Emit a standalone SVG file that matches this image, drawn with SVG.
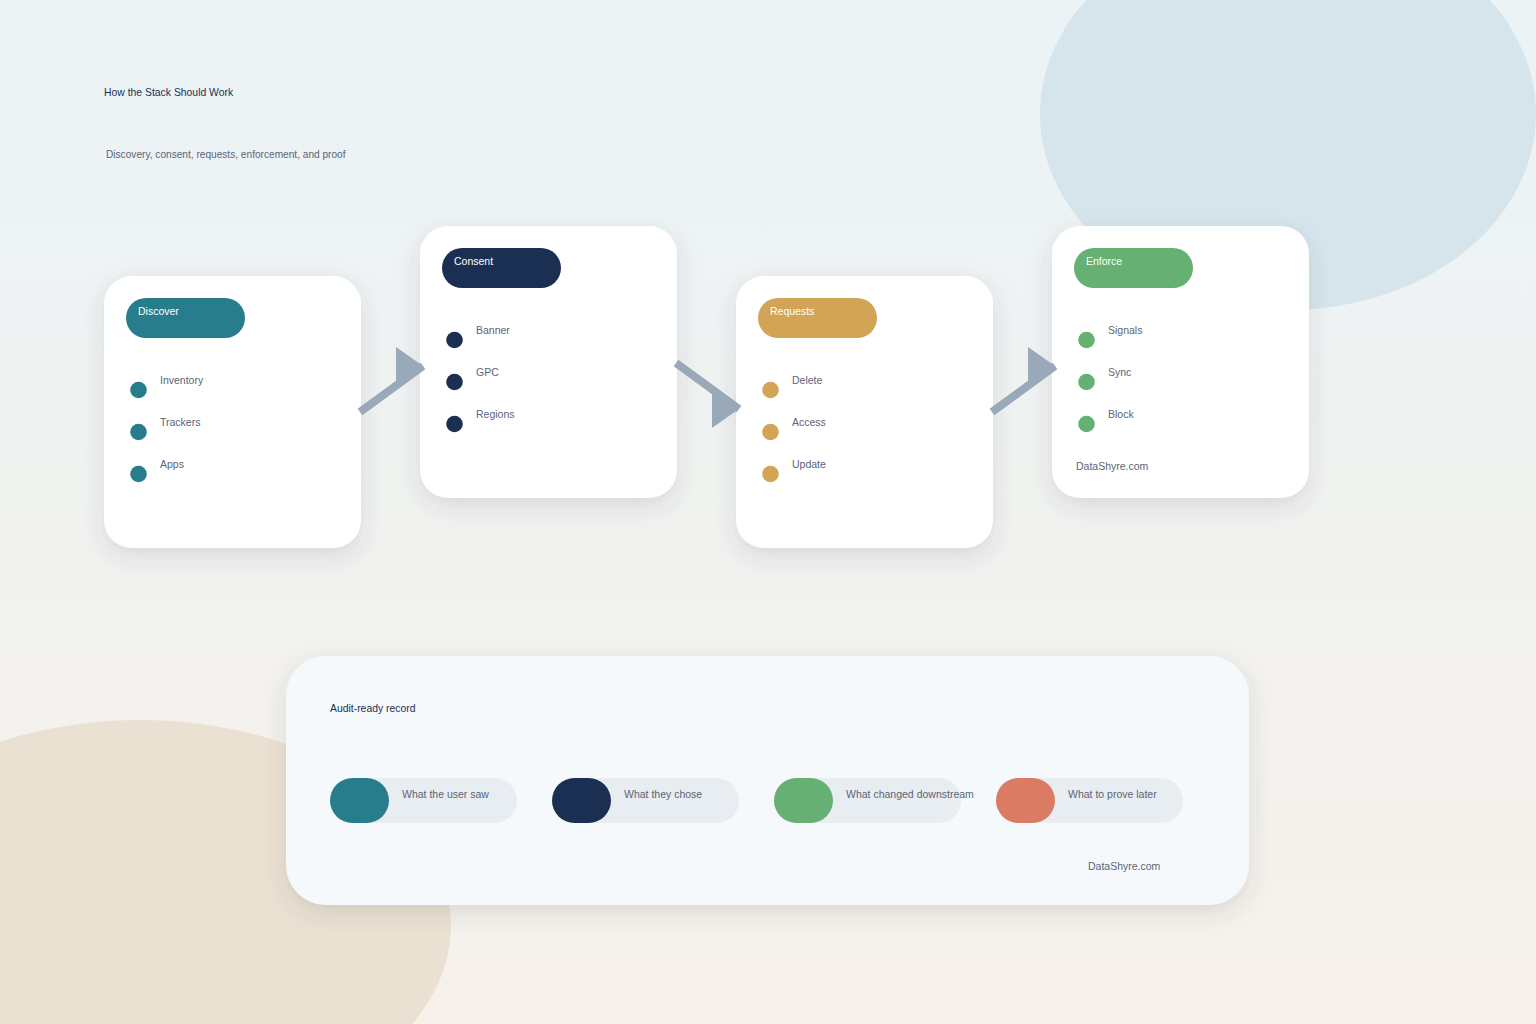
<svg xmlns="http://www.w3.org/2000/svg" width="1536" height="1024" viewBox="0 0 1536 1024">
<defs>
<linearGradient id="bg" x1="0" y1="0" x2="0" y2="1">
<stop offset="0" stop-color="#ebf3f6"/>
<stop offset="1" stop-color="#f6f1ea"/>
</linearGradient>
<filter id="sh" x="-20%" y="-20%" width="140%" height="150%">
<feDropShadow dx="0" dy="8" stdDeviation="11" flood-color="#3a4a55" flood-opacity="0.14"/>
</filter>
<marker id="ah" markerUnits="userSpaceOnUse" viewBox="0 0 27 38" refX="27" refY="19" markerWidth="27" markerHeight="38" orient="0">
<polygon points="0,0 27,19 0,38" fill="#9aa9ba"/>
</marker>
<style>
.card{fill:#ffffff;filter:url(#sh)}
.pt{font-family:"Liberation Sans",Arial,sans-serif;font-size:10.5px;fill:#ffffff}
.it{font-family:"Liberation Sans",Arial,sans-serif;font-size:10.5px;fill:#5b6478}
.ti{font-family:"Liberation Sans",Arial,sans-serif;font-size:10.4px;fill:#1c2f52}
.sub{font-family:"Liberation Sans",Arial,sans-serif;font-size:10.15px;fill:#5b6478}
.conn{stroke:#9aa9ba;stroke-width:8;fill:none;marker-end:url(#ah)}
.track{fill:#e8edf1}
</style>
</defs>
<rect width="1536" height="1024" fill="url(#bg)"/>
<ellipse cx="1288" cy="114" rx="248" ry="196" fill="#d6e5ec"/>
<ellipse cx="140" cy="925" rx="311" ry="205" fill="#ebe1d2"/>

<text class="ti" x="104" y="96">How the Stack Should Work</text>
<text class="sub" x="106" y="158">Discovery, consent, requests, enforcement, and proof</text>

<g id="discover">
<rect class="card" x="104" y="276" width="257" height="272" rx="28"/>
<rect x="126" y="298" width="119" height="40" rx="20" fill="#277d8c"/>
<text class="pt" x="138" y="315">Discover</text>
<circle cx="138.5" cy="390" r="8.3" fill="#277d8c"/>
<circle cx="138.5" cy="432" r="8.3" fill="#277d8c"/>
<circle cx="138.5" cy="474" r="8.3" fill="#277d8c"/>
<text class="it" x="160" y="384">Inventory</text>
<text class="it" x="160" y="426">Trackers</text>
<text class="it" x="160" y="468">Apps</text>
</g>

<g id="consent">
<rect class="card" x="420" y="226" width="257" height="272" rx="28"/>
<rect x="442" y="248" width="119" height="40" rx="20" fill="#1a2f52"/>
<text class="pt" x="454" y="265">Consent</text>
<circle cx="454.5" cy="340" r="8.3" fill="#1a2f52"/>
<circle cx="454.5" cy="382" r="8.3" fill="#1a2f52"/>
<circle cx="454.5" cy="424" r="8.3" fill="#1a2f52"/>
<text class="it" x="476" y="334">Banner</text>
<text class="it" x="476" y="376">GPC</text>
<text class="it" x="476" y="418">Regions</text>
</g>

<g id="requests">
<rect class="card" x="736" y="276" width="257" height="272" rx="28"/>
<rect x="758" y="298" width="119" height="40" rx="20" fill="#d1a555"/>
<text class="pt" x="770" y="315">Requests</text>
<circle cx="770.5" cy="390" r="8.3" fill="#d1a555"/>
<circle cx="770.5" cy="432" r="8.3" fill="#d1a555"/>
<circle cx="770.5" cy="474" r="8.3" fill="#d1a555"/>
<text class="it" x="792" y="384">Delete</text>
<text class="it" x="792" y="426">Access</text>
<text class="it" x="792" y="468">Update</text>
</g>

<g id="enforce">
<rect class="card" x="1052" y="226" width="257" height="272" rx="28"/>
<rect x="1074" y="248" width="119" height="40" rx="20" fill="#65b072"/>
<text class="pt" x="1086" y="265">Enforce</text>
<circle cx="1086.5" cy="340" r="8.3" fill="#65b072"/>
<circle cx="1086.5" cy="382" r="8.3" fill="#65b072"/>
<circle cx="1086.5" cy="424" r="8.3" fill="#65b072"/>
<text class="it" x="1108" y="334">Signals</text>
<text class="it" x="1108" y="376">Sync</text>
<text class="it" x="1108" y="418">Block</text>
<text class="it" x="1076" y="470">DataShyre.com</text>
</g>

<g id="connectors">
<line class="conn" x1="360" y1="412" x2="423" y2="366"/>
<line class="conn" x1="676" y1="363" x2="739" y2="409"/>
<line class="conn" x1="992" y1="412" x2="1055" y2="366"/>
</g>

<g id="audit">
<rect x="286" y="656" width="963" height="249" rx="40" fill="#f5f9fc" filter="url(#sh)"/>
<text class="ti" x="330" y="712">Audit-ready record</text>
<rect class="track" x="330" y="778" width="187" height="45" rx="22.5"/>
<rect x="330" y="778" width="59" height="45" rx="22.5" fill="#277d8c"/>
<text class="it" x="402" y="798">What the user saw</text>
<rect class="track" x="552" y="778" width="187" height="45" rx="22.5"/>
<rect x="552" y="778" width="59" height="45" rx="22.5" fill="#1a2f52"/>
<text class="it" x="624" y="798">What they chose</text>
<rect class="track" x="774" y="778" width="187" height="45" rx="22.5"/>
<rect x="774" y="778" width="59" height="45" rx="22.5" fill="#65b072"/>
<text class="it" x="846" y="798">What changed downstream</text>
<rect class="track" x="996" y="778" width="187" height="45" rx="22.5"/>
<rect x="996" y="778" width="59" height="45" rx="22.5" fill="#dc7b63"/>
<text class="it" x="1068" y="798">What to prove later</text>
<text class="it" x="1088" y="870">DataShyre.com</text>
</g>
</svg>
